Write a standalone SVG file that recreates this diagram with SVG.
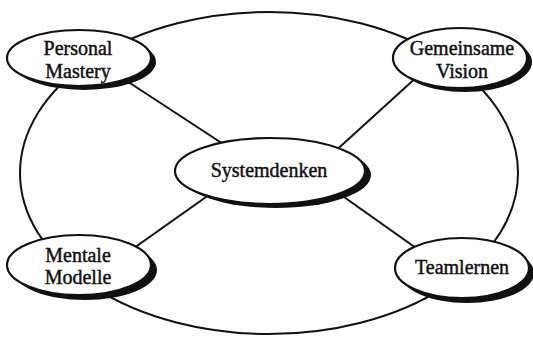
<svg xmlns="http://www.w3.org/2000/svg" width="533" height="339" viewBox="0 0 533 339">
<style>
.conn{stroke:#111;stroke-width:2;fill:none}
.sh{fill:#111}
.el{fill:#fff;stroke:#111;stroke-width:2.2}
.t{font-family:"Liberation Serif","Times New Roman",serif;font-size:20px;fill:#111;stroke:#111;stroke-width:0.45;text-anchor:middle}
</style>
<rect width="533" height="339" fill="#fff"/>
<g id="connectors">
<ellipse class="conn" cx="269" cy="173" rx="249" ry="161"/>
<line class="conn" x1="110" y1="70" x2="240" y2="155"/>
<line class="conn" x1="430" y1="65" x2="320" y2="165"/>
<line class="conn" x1="110" y1="265" x2="230" y2="180"/>
<line class="conn" x1="440" y1="265" x2="320" y2="180"/>
</g>
<g id="personal-mastery">
<ellipse class="sh" cx="84" cy="62" rx="72" ry="28"/>
<ellipse class="el" cx="79" cy="58" rx="72" ry="28"/>
<text class="t" x="78" y="55">Personal</text>
<text class="t" x="78" y="78">Mastery</text>
</g>
<g id="gemeinsame-vision">
<ellipse class="sh" cx="465" cy="62" rx="67" ry="30"/>
<ellipse class="el" cx="460" cy="58" rx="67" ry="30"/>
<text class="t" x="462" y="55">Gemeinsame</text>
<text class="t" x="462" y="78">Vision</text>
</g>
<g id="systemdenken">
<ellipse class="sh" cx="276" cy="175" rx="95" ry="33"/>
<ellipse class="el" cx="270" cy="171" rx="95" ry="33"/>
<text class="t" x="269" y="177">Systemdenken</text>
</g>
<g id="mentale-modelle">
<ellipse class="sh" cx="85" cy="270" rx="72" ry="30"/>
<ellipse class="el" cx="79" cy="265" rx="72" ry="30"/>
<text class="t" x="78" y="262">Mentale</text>
<text class="t" x="78" y="284">Modelle</text>
</g>
<g id="teamlernen">
<ellipse class="sh" cx="467" cy="273" rx="67" ry="30"/>
<ellipse class="el" cx="462" cy="268" rx="67" ry="30"/>
<text class="t" x="462" y="274">Teamlernen</text>
</g>
</svg>
